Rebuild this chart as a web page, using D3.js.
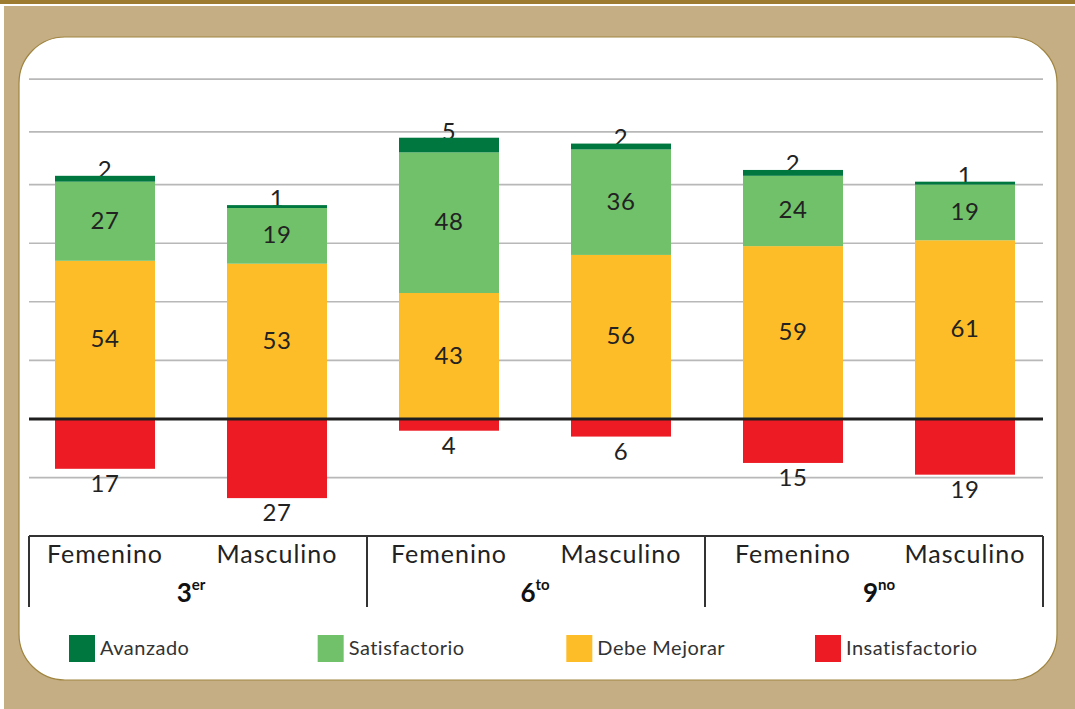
<!DOCTYPE html>
<html><head><meta charset="utf-8">
<script src="https://cdn.jsdelivr.net/npm/d3@7"></script>
<style>html,body{margin:0;padding:0;background:#fff;}svg{display:block;}</style>
</head><body>
<svg id="chart" width="1075" height="709"></svg>
<script>
const grades = ["3er", "6to", "9no"];
const gradeBase = ["3", "6", "9"];
const gradeSup = ["er", "to", "no"];
const sexes = ["Femenino", "Masculino"];
const bars = ["3er-F", "3er-M", "6to-F", "6to-M", "9no-F", "9no-M"];
const avanzado = [2, 1, 5, 2, 2, 1];
const satisfactorio = [27, 19, 48, 36, 24, 19];
const debeMejorar = [54, 53, 43, 56, 59, 61];
const insatisfactorio = [17, 27, 4, 6, 15, 19];
const gridValues = [-20, 0, 20, 40, 60, 80, 98, 116];
const legendLabels = ["Avanzado", "Satisfactorio", "Debe Mejorar", "Insatisfactorio"];
const colors = ["#00773f", "#70c16a", "#fdbd28", "#ed1c24"];

const svg = d3.select("#chart");
const W = 1075, H = 709;
const FONT = "Lato, 'Open Sans', sans-serif";

// background
svg.append("rect").attr("x", 0).attr("y", 0).attr("width", W).attr("height", H).attr("fill", "#fff");
svg.append("rect").attr("x", 4).attr("y", 6).attr("width", W - 4).attr("height", H - 6).attr("fill", "#c5ae84");
svg.append("rect").attr("x", 0).attr("y", 0).attr("width", W).attr("height", 4).attr("fill", "#9d7b30");
svg.append("rect").attr("x", 19).attr("y", 37).attr("width", 1038).attr("height", 643)
  .attr("rx", 46).attr("ry", 46).attr("fill", "#fff").attr("stroke", "#a08540").attr("stroke-width", 1.2);

const plotL = 29, plotR = 1043;
const y = d3.scaleLinear().domain([0, 100]).range([419, 126]);
const x = d3.scalePoint().domain(bars).range([105, 965]);
const bw = 100;
const gx = d3.scaleBand().domain(grades).range([plotL, plotR]);

// gridlines
svg.append("g").selectAll("line").data(gridValues.filter(v => v !== 0)).join("line")
  .attr("x1", plotL).attr("x2", plotR).attr("y1", d => y(d)).attr("y2", d => y(d))
  .attr("stroke", "#b8b8b8").attr("stroke-width", 1.6);

// stacked data
const rows = bars.map((b, i) => ({ key: b, i, avanzado: avanzado[i], satisfactorio: satisfactorio[i], debeMejorar: debeMejorar[i], insatisfactorio: insatisfactorio[i] }));
const posKeys = ["debeMejorar", "satisfactorio", "avanzado"];
const stack = d3.stack().keys(posKeys)(rows);
const colorOf = { avanzado: colors[0], satisfactorio: colors[1], debeMejorar: colors[2], insatisfactorio: colors[3] };

const labelStyle = sel => sel.attr("text-anchor", "middle").attr("font-family", FONT)
  .attr("font-size", 24).attr("letter-spacing", 0.6).attr("fill", "#222");

// avanzado labels (drawn under bars)
svg.append("g").selectAll("text").data(stack[2]).join("text")
  .attr("x", d => x(d.data.key)).attr("y", d => y(d[1]) + 2)
  .call(labelStyle)
  .text(d => d.data.avanzado);

// positive bars
stack.forEach(layer => {
  svg.append("g").selectAll("rect").data(layer).join("rect")
    .attr("x", d => x(d.data.key) - bw / 2).attr("width", bw)
    .attr("y", d => y(d[1])).attr("height", d => y(d[0]) - y(d[1]))
    .attr("fill", colorOf[layer.key]);
});
// negative bars
svg.append("g").selectAll("rect").data(rows).join("rect")
  .attr("x", d => x(d.key) - bw / 2).attr("width", bw)
  .attr("y", y(0)).attr("height", d => y(-d.insatisfactorio) - y(0))
  .attr("fill", colorOf.insatisfactorio);

// zero line
svg.append("line").attr("x1", plotL).attr("x2", plotR).attr("y1", y(0)).attr("y2", y(0))
  .attr("stroke", "#1e1e1e").attr("stroke-width", 3);

// inner labels
[stack[0], stack[1]].forEach(layer => {
  svg.append("g").selectAll("text").data(layer).join("text")
    .attr("x", d => x(d.data.key)).attr("y", d => (y(d[0]) + y(d[1])) / 2 - 2)
    .attr("dominant-baseline", "central")
    .call(labelStyle)
    .text(d => d.data[layer.key]);
});
// negative labels
svg.append("g").selectAll("text").data(rows).join("text")
  .attr("x", d => x(d.key)).attr("y", d => y(-d.insatisfactorio) + 23)
  .call(labelStyle)
  .text(d => d.insatisfactorio);

// category axis table
const tableTop = 536, tableBot = 607;
svg.append("line").attr("x1", plotL).attr("x2", plotR).attr("y1", tableTop).attr("y2", tableTop)
  .attr("stroke", "#333").attr("stroke-width", 2);
const bounds = grades.map(g => gx(g)).concat([plotR]);
svg.append("g").selectAll("line").data(bounds).join("line")
  .attr("x1", d => d).attr("x2", d => d).attr("y1", tableTop).attr("y2", tableBot)
  .attr("stroke", "#333").attr("stroke-width", 2);

svg.append("g").selectAll("text").data(bars).join("text")
  .attr("x", d => x(d)).attr("y", 563)
  .attr("text-anchor", "middle").attr("font-family", FONT).attr("font-size", 25).attr("letter-spacing", 1)
  .attr("fill", "#222")
  .text((d, i) => sexes[i % 2]);

const gl = svg.append("g").selectAll("text").data(grades).join("text")
  .attr("x", (d, i) => (x(bars[2 * i]) + x(bars[2 * i + 1])) / 2).attr("y", 602)
  .attr("text-anchor", "middle").attr("font-family", FONT).attr("font-weight", "bold").attr("fill", "#111");
gl.append("tspan").attr("font-size", 26).text((d, i) => gradeBase[i]);
gl.append("tspan").attr("font-size", 15).attr("dy", -12).text((d, i) => gradeSup[i]);

// legend
const lx = d3.scalePoint().domain(legendLabels).range([69, 815]);
const lg = svg.append("g").selectAll("g").data(legendLabels).join("g")
  .attr("transform", d => `translate(${lx(d)},635)`);
lg.append("rect").attr("width", 26).attr("height", 27).attr("fill", (d, i) => colors[i]);
lg.append("text").attr("x", 31).attr("y", 19.5).attr("font-family", FONT).attr("font-size", 20)
  .attr("letter-spacing", 0.5).attr("fill", "#333").text(d => d);
</script>
</body></html>
